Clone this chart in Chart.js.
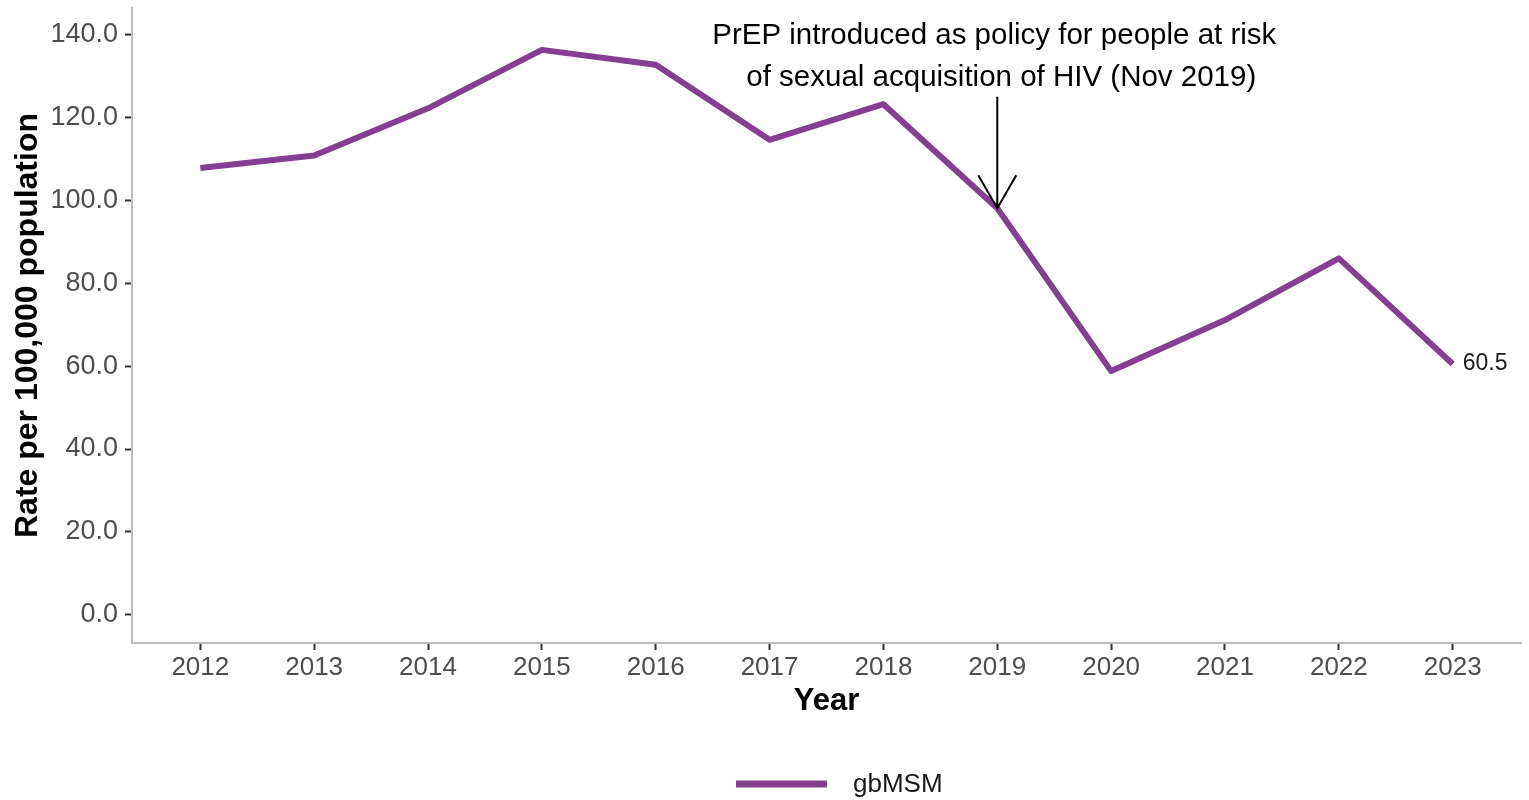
<!DOCTYPE html>
<html>
<head>
<meta charset="utf-8">
<script src="https://cdn.jsdelivr.net/npm/chart.js@4"></script>
<style>
  html, body { margin: 0; padding: 0; background: #fff; }
  #wrap { width: 1529px; height: 800px; }
</style>
</head>
<body>
<div id="wrap"><canvas id="chart" width="1529" height="800"></canvas></div>
<script>
// Data
const years = [2012, 2013, 2014, 2015, 2016, 2017, 2018, 2019, 2020, 2021, 2022, 2023];
const rates = [107.8, 110.8, 122.2, 136.3, 132.7, 114.6, 123.2, 98.1, 58.8, 71.1, 86.0, 60.5];
const yTicks = [0, 20, 40, 60, 80, 100, 120, 140];
const seriesName = 'gbMSM';
const noteLines = ['PrEP introduced as policy for people at risk', 'of sexual acquisition of HIV (Nov 2019)'];
const noteYear = 2019;
const noteArrowTop = 125;

const FONT = '"Liberation Sans", Arial, sans-serif';
const PURPLE = '#843F90';

// Arrow + text annotation, end label and legend
const extras = {
    id: 'extras',
    afterDatasetsDraw(chart) {
        const { ctx, scales: { x, y } } = chart;
        ctx.save();

        // PrEP annotation
        const ax = x.getPixelForValue(noteYear);
        const tipY = y.getPixelForValue(rates[years.indexOf(noteYear)]);
        const topY = y.getPixelForValue(noteArrowTop);
        ctx.strokeStyle = '#000';
        ctx.lineWidth = 2;
        ctx.beginPath();
        ctx.moveTo(ax, topY);
        ctx.lineTo(ax, tipY);
        ctx.moveTo(ax - 19, tipY - 33);
        ctx.lineTo(ax, tipY);
        ctx.lineTo(ax + 19, tipY - 33);
        ctx.stroke();

        ctx.fillStyle = '#000';
        ctx.font = '29.5px ' + FONT;
        ctx.textAlign = 'center';
        ctx.textBaseline = 'middle';
        ctx.fillText(noteLines[0], ax - 3, 36);
        ctx.fillText(noteLines[1], ax + 4, 78);

        // last value label
        const last = rates.length - 1;
        ctx.font = '23px ' + FONT;
        ctx.fillStyle = '#1a1a1a';
        ctx.textAlign = 'left';
        ctx.textBaseline = 'middle';
        ctx.fillText(rates[last].toFixed(1), x.getPixelForValue(years[last]) + 10, y.getPixelForValue(rates[last]));

        // legend
        ctx.strokeStyle = PURPLE;
        ctx.lineWidth = 7;
        ctx.beginPath();
        ctx.moveTo(736, 784);
        ctx.lineTo(827, 784);
        ctx.stroke();
        ctx.font = '26px ' + FONT;
        ctx.fillStyle = '#1a1a1a';
        ctx.fillText(seriesName, 853, 785);

        ctx.restore();
    }
};

new Chart(document.getElementById('chart'), {
    type: 'line',
    data: {
        datasets: [{
            label: seriesName,
            data: years.map((yr, i) => ({ x: yr, y: rates[i] })),
            borderColor: PURPLE,
            backgroundColor: PURPLE,
            borderWidth: 6,
            pointRadius: 0,
            tension: 0,
            borderJoinStyle: 'round',
            fill: false
        }]
    },
    options: {
        responsive: false,
        animation: false,
        devicePixelRatio: 1,
        layout: { padding: { top: 8, right: 8, left: 0, bottom: 0 } },
        plugins: {
            legend: { display: false },
            tooltip: { enabled: false }
        },
        scales: {
            x: {
                type: 'linear',
                min: 2011.4,
                max: 2023.6,
                afterBuildTicks: (scale) => { scale.ticks = years.map(v => ({ value: v })); },
                afterFit: (scale) => { scale.height = 157; },
                grid: { drawOnChartArea: false, drawTicks: true, tickLength: 7, tickWidth: 2, tickColor: '#333' },
                border: { display: true, color: '#bdbdbd', width: 2 },
                ticks: {
                    color: '#4d4d4d',
                    font: { family: FONT, size: 26 },
                    padding: 2,
                    maxRotation: 0,
                    autoSkip: false,
                    callback: (v) => String(v)
                },
                title: {
                    display: true,
                    text: 'Year',
                    color: '#000',
                    font: { family: FONT, size: 31, weight: 'bold' },
                    padding: { top: 0, bottom: 80 }
                }
            },
            y: {
                min: -6.8,
                max: 146.4,
                afterBuildTicks: (scale) => { scale.ticks = yTicks.map(v => ({ value: v })); },
                afterFit: (scale) => {
                    scale.width = 132;
                    scale.paddingTop = 0;
                    scale.paddingBottom = 0;
                },
                grid: { drawOnChartArea: false, drawTicks: true, tickLength: 7, tickWidth: 2, tickColor: '#333' },
                border: { display: true, color: '#bdbdbd', width: 2 },
                ticks: {
                    color: '#4d4d4d',
                    font: { family: FONT, size: 27 },
                    padding: 7,
                    callback: (v) => Number(v).toFixed(1)
                },
                title: {
                    display: true,
                    text: 'Rate per 100,000 population',
                    color: '#000',
                    font: { family: FONT, size: 32, weight: 'bold' },
                    padding: { top: 9, bottom: 0 }
                }
            }
        }
    },
    plugins: [extras]
});
</script>
</body>
</html>
